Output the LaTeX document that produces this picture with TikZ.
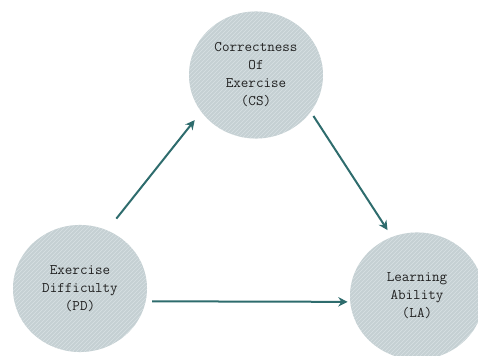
\documentclass[tikz,border=0pt]{standalone}
\usetikzlibrary{shapes.geometric,patterns,arrows.meta}
\definecolor{discfill}{HTML}{C5D0D3}
\definecolor{discline}{HTML}{D8E1E3}
\definecolor{arrowteal}{HTML}{2E6C6D}
\definecolor{disctext}{HTML}{222222}
\begin{document}
\begin{tikzpicture}[x=0.75pt,y=0.75pt,
  disc/.style={ellipse,minimum width=100.5pt,minimum height=95.3pt,inner sep=0pt,
    fill=discfill,postaction={pattern=north east lines,pattern color=discline},
    align=center,text=disctext,font=\ttfamily\fontsize{11}{13.5}\selectfont},
  link/.style={arrowteal,line width=1.5pt,-{Stealth[length=7pt,width=7pt]}}]
  \useasboundingbox (0,0) rectangle (478,356);
  \node[disc] (cs) at (256,281) {Correctness\\Of\\Exercise\\(CS)};
  \node[disc] (pd) at (80,67.5) {Exercise\\Difficulty\\(PD)};
  \node[disc] (la) at (417,60) {Learning\\Ability\\(LA)};
  \draw[link,shorten <=11pt,shorten >=7.8pt] (pd.65.2) -- (cs.214.3);
  \draw[link,shorten <=3.6pt,shorten >=6pt] (cs.326.5) -- (la.113.7);
  \draw[link,shorten <=4.6pt,shorten >=1.8pt] (pd.-11.6) -- (la.185.1);
\end{tikzpicture}
\end{document}
